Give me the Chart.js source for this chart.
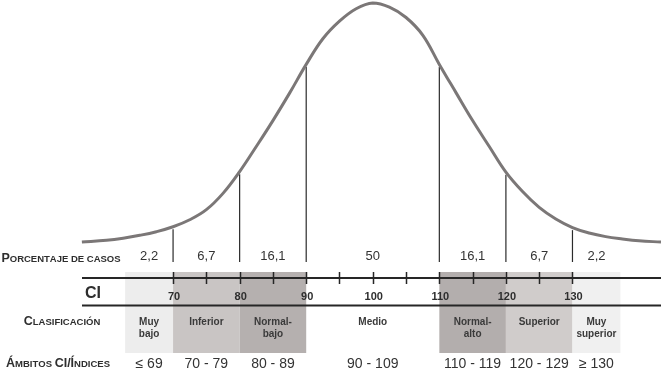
<!DOCTYPE html>
<html>
<head>
<meta charset="utf-8">
<script src="https://cdn.jsdelivr.net/npm/chart.js@4/dist/chart.umd.min.js"></script>
<style>
  body { margin: 0; background: #fff; }
  #wrap { width: 661px; height: 372px; position: relative; }
</style>
</head>
<body>
<div id="wrap"><canvas id="ciChart"></canvas></div>
<script>
// curva normal (CI en x, altura relativa en y, 100 = pico)
var curve_iq = [56.3, 60, 62.5, 65, 67.5, 70, 72.5, 75, 77.5, 80, 82.5, 85, 87.5, 90, 92.5, 95, 97.5, 100,
                102.5, 105, 107.5, 110, 112.5, 115, 117.5, 120, 122.5, 125, 127.5, 130, 132.5, 135, 137.5, 140, 143.3];
var curve_height = [7.7, 8.4, 9.2, 10.3, 11.7, 13.6, 16.3, 20.2, 26.5, 34.9, 44.6, 54.6, 65.2, 76.3, 86.2, 93.0, 97.8, 100,
                    98.4, 94.4, 87.6, 76.3, 65.4, 54.6, 44.6, 34.7, 27.2, 21.1, 16.6, 13.3, 11.2, 9.8, 8.9, 8.2, 7.7];

var cut_points = [70, 80, 90, 110, 120, 130];
var ci_labels = [70, 80, 90, 100, 110, 120, 130];
var ci_marks = [70, 75, 80, 85, 90, 95, 100, 105, 110, 115, 120, 125, 130];

var case_percent = ["2,2", "6,7", "16,1", "50", "16,1", "6,7", "2,2"];
var class_names = [["Muy", "bajo"], ["Inferior"], ["Normal-", "bajo"], ["Medio"], ["Normal-", "alto"], ["Superior"], ["Muy", "superior"]];
var ci_ranges = ["\u2264 69", "70 - 79", "80 - 89", "90 - 109", "110 - 119", "120 - 129", "\u2265 130"];

var band_colors = ["#ededed", "#c9c5c4", "#b5b0af", null, "#b3aead", "#d0cccb", "#f0f0f0"];
var tail_width = 7.2;

function heightAt(iq){
  var i = curve_iq.indexOf(iq);
  return curve_height[i];
}

var curve_points = [];
for(var i = 0; i < curve_iq.length; i++){
  curve_points.push({x: curve_iq[i], y: curve_height[i]});
}

var datasets = [{
  data: curve_points,
  borderColor: "#7b7777",
  borderWidth: 3,
  pointRadius: 0,
  tension: 0.4,
  fill: false,
  clip: false
}];

for(var c = 0; c < cut_points.length; c++){
  datasets.push({
    data: [{x: cut_points[c], y: 0}, {x: cut_points[c], y: heightAt(cut_points[c]) - 1}],
    borderColor: "#2b2b2b",
    borderWidth: 1.2,
    pointRadius: 0,
    fill: false,
    clip: false
  });
}

// bordes de cada banda (con las colas abiertas)
function bandEdges(k){
  var lo = k == 0 ? cut_points[0] - tail_width : cut_points[k - 1];
  var hi = k == cut_points.length ? cut_points[cut_points.length - 1] + tail_width : cut_points[k];
  return [lo, hi];
}

function smallCaps(ctx, text, cx, y, big, small){
  var parts = [];
  var total = 0;
  for(var i = 0; i < text.length; i++){
    var ch = text[i];
    var up = ch.toUpperCase();
    var isCap = (ch == up && ch != ch.toLowerCase()) || ch == "/";
    ctx.font = "bold " + (isCap ? big : small) + "px 'Liberation Sans', Arial, sans-serif";
    var w = ctx.measureText(up).width;
    parts.push([up, isCap ? big : small, w]);
    total += w;
  }
  var x = cx - total / 2;
  ctx.textAlign = "left";
  for(var j = 0; j < parts.length; j++){
    ctx.font = "bold " + parts[j][1] + "px 'Liberation Sans', Arial, sans-serif";
    ctx.fillText(parts[j][0], x, y);
    x += parts[j][2];
  }
}

var tablePlugin = {
  id: "tabla",
  afterDraw: function(chart){
    var ctx = chart.ctx;
    var xs = chart.scales.x;
    var W = chart.width;
    ctx.save();

    // sombreado de clasificaciones
    for(var k = 0; k < band_colors.length; k++){
      if(!band_colors[k]) continue;
      var e = bandEdges(k);
      var x0 = xs.getPixelForValue(e[0]);
      var x1 = xs.getPixelForValue(e[1]);
      ctx.fillStyle = band_colors[k];
      ctx.fillRect(x0, 272, x1 - x0, 81);
    }

    // lineas horizontales
    ctx.strokeStyle = "#262626";
    ctx.lineWidth = 2;
    ctx.beginPath();
    ctx.moveTo(82, 278); ctx.lineTo(W, 278);
    ctx.moveTo(82, 305.5); ctx.lineTo(W, 305.5);
    ctx.stroke();

    ctx.lineWidth = 1.5;
    ctx.beginPath();
    for(var m = 0; m < ci_marks.length; m++){
      var tx = Math.round(xs.getPixelForValue(ci_marks[m])) + 0.5;
      ctx.moveTo(tx, 272); ctx.lineTo(tx, 284);
    }
    ctx.stroke();

    ctx.fillStyle = "#2e2e2e";
    ctx.textBaseline = "alphabetic";

    // titulos de fila
    smallCaps(ctx, "Porcentaje de casos", 61, 262, 12.5, 9.5);
    smallCaps(ctx, "Clasificación", 62, 325, 12.5, 9.5);
    smallCaps(ctx, "Ámbitos CI/Índices", 58, 367, 12.5, 9.5);

    ctx.font = "bold 16px 'Liberation Sans', Arial, sans-serif";
    ctx.textAlign = "left";
    ctx.fillText("CI", 85, 298);

    // etiquetas del eje CI
    ctx.font = "bold 11px 'Liberation Sans', Arial, sans-serif";
    ctx.textAlign = "center";
    for(var t = 0; t < ci_labels.length; t++){
      ctx.fillText(String(ci_labels[t]), xs.getPixelForValue(ci_labels[t]) + 1, 300);
    }

    for(var b = 0; b < case_percent.length; b++){
      var ed = bandEdges(b);
      var cx = xs.getPixelForValue((ed[0] + ed[1]) / 2);

      ctx.fillStyle = "#333";
      ctx.font = "13px 'Liberation Sans', Arial, sans-serif";
      ctx.fillText(case_percent[b], cx, 260);

      ctx.fillStyle = "#3a3a3a";
      ctx.font = "bold 10px 'Liberation Sans', Arial, sans-serif";
      for(var l = 0; l < class_names[b].length; l++){
        ctx.fillText(class_names[b][l], cx, 325 + l * 12);
      }

      ctx.fillStyle = "#333";
      ctx.font = "14px 'Liberation Sans', Arial, sans-serif";
      ctx.fillText(ci_ranges[b], cx, 368);
    }
    ctx.restore();
  }
};

var chartCI = new Chart(document.getElementById("ciChart").getContext("2d"), {
  type: "line",
  data: { datasets: datasets },
  options: {
    responsive: true,
    maintainAspectRatio: false,
    animation: false,
    layout: { padding: { top: 3, bottom: 110, left: 0, right: 0 } },
    plugins: { legend: { display: false }, tooltip: { enabled: false } },
    scales: {
      x: { type: "linear", min: 44, max: 143.3, display: false },
      y: { min: 0, max: 100, display: false }
    }
  },
  plugins: [tablePlugin]
});
</script>
</body>
</html>
